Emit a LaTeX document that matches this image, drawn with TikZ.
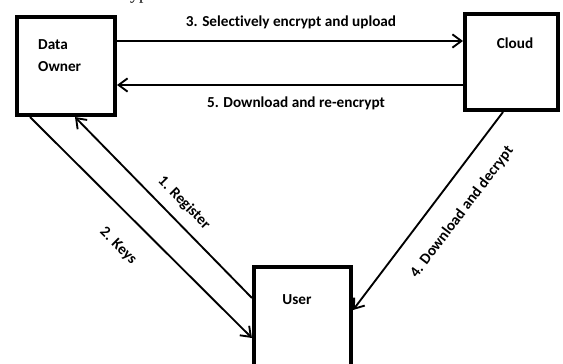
\documentclass[tikz,border=0pt]{standalone}
\usepackage{fontspec}
\setmainfont{Carlito}[Ligatures={NoCommon}]
\newfontfamily\serifpart{Liberation Serif}
\usetikzlibrary{arrows.meta}
\begin{document}
\begin{tikzpicture}[x=0.03cm,y=-0.03cm,
  box/.style={draw, line width=3.2pt, inner sep=0pt},
  txt/.style={font=\fontsize{13}{15}\selectfont\bfseries, inner sep=0pt},
  arr/.style={line width=1.6pt, -{Straight Barb[length=0.27cm,width=0.4cm]}}]
\useasboundingbox (0,0) rectangle (563,363);
\clip (0,0) rectangle (563,363);
% boxes
\node[box, minimum width=2.95cm, minimum height=2.95cm] (do) at (66,66) {};
\node[box, minimum width=2.80cm, minimum height=2.89cm] (cl) at (511.5,62) {};
\node[box, minimum width=2.92cm, minimum height=4.54cm] (us) at (302.5,342.5) {};
% box texts
\node[txt, anchor=west] (dot1) at (38,45) {Data};
\node[txt, anchor=west] (dot2) at (38,67) {Owner};
\node[txt] (clt) at (515,43) {Cloud};
\node[txt] (ust) at (297,300) {User};
% helper coordinates
\coordinate (y3) at (0,41);
\coordinate (y5) at (0,85);
\coordinate (r1s) at (0,298);
\coordinate (r1e) at (75,0);
\coordinate (k2s) at (30,0);
\coordinate (k2e) at (0,338);
\coordinate (d4s) at (503,0);
\coordinate (d4e) at (0,310);
% connectors
\draw[arr] (do.east |- y3) -- (cl.west |- y3);
\draw[arr] (cl.west |- y5) -- (do.east |- y5);
\draw[arr] (us.west |- r1s) -- (do.south -| r1e);
\draw[arr] (do.south -| k2s) -- (us.west |- k2e);
\draw[arr] (cl.south -| d4s) -- (us.east |- d4e);
% labels
\node[txt] (l3) at (291,22) {3. Selectively encrypt and upload};
\node[txt] (l5) at (296,103) {5. Download and re-encrypt};
\node[txt, rotate=-45.5] (l1) at (184,203) {1. Register};
\node[txt, rotate=-44.6] (l2) at (118,246) {2. Keys};
\node[txt, rotate=52.8] (l4) at (462,212) {4. Download and decrypt};
% fragment of text cut by the top edge
\node[font=\serifpart\fontsize{15}{18}\selectfont, anchor=base west, inner sep=0pt] (frag) at (130,-1) {ypt};
\end{tikzpicture}
\end{document}
